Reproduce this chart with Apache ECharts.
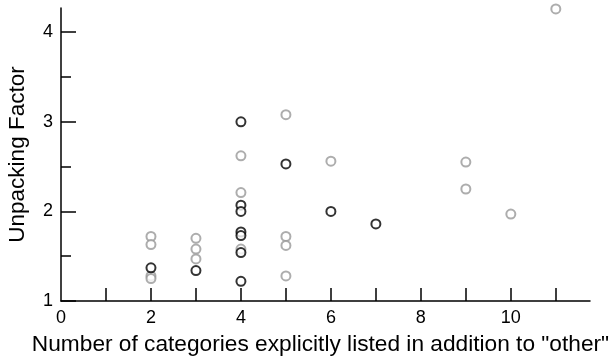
<!DOCTYPE html>
<html>
<head>
<meta charset="utf-8">
<script src="https://cdn.jsdelivr.net/npm/echarts@6/dist/echarts.min.js"></script>
<style>
  html, body { margin: 0; padding: 0; background: #fff; }
  #chart { width: 610px; height: 361px; }
</style>
</head>
<body>
<div id="chart"></div>
<script>
// black circles
var blackPoints = [
    [2, 1.37], [3, 1.34],
    [4, 3.00], [4, 2.07], [4, 2.00], [4, 1.77], [4, 1.73], [4, 1.54], [4, 1.22],
    [5, 2.53], [6, 2.00], [7, 1.86]
];
// grey circles
var greyPoints = [
    [2, 1.72], [2, 1.63], [2, 1.28], [2, 1.25],
    [3, 1.70], [3, 1.58], [3, 1.47],
    [4, 2.62], [4, 2.21], [4, 1.58],
    [5, 3.08], [5, 1.72], [5, 1.62], [5, 1.28],
    [6, 2.56], [9, 2.55], [9, 2.25], [10, 1.97], [11, 4.26]
];
var xTicks = [1, 2, 3, 4, 5, 6, 7, 8, 9, 10, 11];
var xLabels = [0, 2, 4, 6, 8, 10];
var yTicks = [1, 2, 3, 4];
var yMinorTicks = [1.5, 2.5, 3.5];

var font = 'Liberation Sans, Arial, Helvetica, sans-serif';
var myChart = echarts.init(document.getElementById('chart'));
var option = {
    animation: false,
    grid: { left: 61, top: 8, right: 20, bottom: 60, outerBoundsMode: 'none' },
    xAxis: {
        type: 'value',
        min: 0,
        max: 11.76,
        name: 'Number of categories explicitly listed in addition to "other"',
        nameLocation: 'middle',
        nameGap: 32,
        nameTextStyle: { color: '#000', fontSize: 22.7, fontFamily: font, padding: [0, 10, 0, 0] },
        axisLine: { lineStyle: { color: '#000', width: 1.5 } },
        axisTick: { customValues: xTicks, inside: true, length: 13, lineStyle: { color: '#000', width: 1.5 } },
        axisLabel: { customValues: xLabels, color: '#000', fontSize: 18, fontFamily: font, margin: 8 },
        splitLine: { show: false }
    },
    yAxis: [
        {
            type: 'value',
            min: 1,
            max: 4.27,
            name: 'Unpacking Factor',
            nameLocation: 'middle',
            nameGap: 32,
            nameTextStyle: { color: '#000', fontSize: 22.5, fontFamily: font },
            axisLine: { show: true, lineStyle: { color: '#000', width: 1.5 } },
            axisTick: { show: true, customValues: yTicks, inside: true, length: 15, lineStyle: { color: '#000', width: 1.5 } },
            axisLabel: { customValues: yTicks, color: '#000', fontSize: 18, fontFamily: font, margin: 8 },
            splitLine: { show: false }
        },
        {
            // minor ticks only
            type: 'value',
            position: 'left',
            min: 1,
            max: 4.27,
            axisLine: { show: false },
            axisTick: { show: true, customValues: yMinorTicks, inside: true, length: 10, lineStyle: { color: '#000', width: 1.5 } },
            axisLabel: { show: false },
            splitLine: { show: false }
        }
    ],
    series: [
        {
            name: 'grey',
            type: 'scatter',
            data: greyPoints,
            symbol: 'emptyCircle',
            symbolSize: 9,
            itemStyle: { color: '#999', borderColor: '#999', borderWidth: 1.5 }
        },
        {
            name: 'black',
            type: 'scatter',
            data: blackPoints,
            symbol: 'emptyCircle',
            symbolSize: 9,
            itemStyle: { color: '#000', borderColor: '#000', borderWidth: 1.5 }
        }
    ]
};
myChart.setOption(option);
</script>
</body>
</html>
